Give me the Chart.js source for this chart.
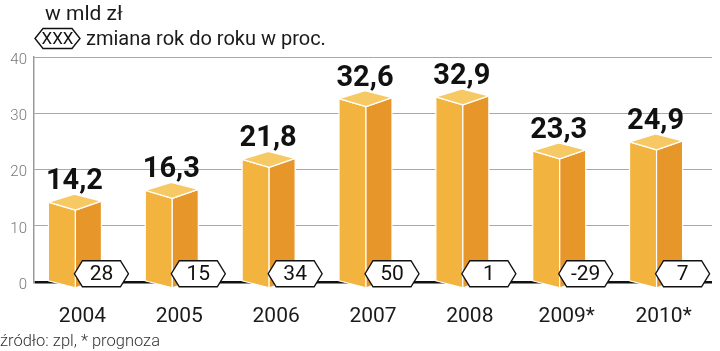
<!DOCTYPE html>
<html>
<head>
<meta charset="utf-8">
<script src="https://cdn.jsdelivr.net/npm/chart.js@4"></script>
<style>
  body { margin: 0; background: #fff; }
  #wrap { position: relative; width: 720px; height: 351px; font-family: Roboto, sans-serif; color: #1a1a1a; }
  canvas { position: absolute; left: 0; top: 0; }
  .txt { position: absolute; white-space: nowrap; }
  #unit { left: 45px; top: 3px; font-size: 21px; line-height: 21px; }
  #legend { left: 86px; top: 28px; font-size: 20px; line-height: 20px; }
  #source { left: 0px; top: 333px; font-size: 16.5px; line-height: 16px; font-weight: 300; color: #333; }
</style>
</head>
<body>
<div id="wrap">
  <canvas id="myChart" width="720" height="351"></canvas>
  <div class="txt" id="unit">w mld zł</div>
  <div class="txt" id="legend">zmiana rok do roku w proc.</div>
  <div class="txt" id="source">źródło: zpl, * prognoza</div>
</div>
<script>
const years = ['2004', '2005', '2006', '2007', '2008', '2009*', '2010*'];
const values = [14.2, 16.3, 21.8, 32.6, 32.9, 23.3, 24.9];
const changes = ['28', '15', '34', '50', '1', '-29', '7'];
const yTicks = [0, 10, 20, 30, 40];

const frontColor = '#f2b43f';
const sideColor = '#e7962a';
const topColor = '#f7c965';

function poly(ctx, pts, fill, stroke, lw) {
  ctx.beginPath();
  ctx.moveTo(pts[0][0], pts[0][1]);
  for (let i = 1; i < pts.length; i++) ctx.lineTo(pts[i][0], pts[i][1]);
  ctx.closePath();
  ctx.fillStyle = fill;
  ctx.fill();
  if (stroke) {
    ctx.strokeStyle = stroke;
    ctx.lineWidth = lw;
    ctx.stroke();
  }
}

function hexBadge(ctx, left, cy, w, h, text, font) {
  const half = h / 2;
  poly(ctx, [
    [left, cy], [left + 8, cy - half], [left + w - 8, cy - half],
    [left + w, cy], [left + w - 8, cy + half], [left + 8, cy + half]
  ], '#fff', '#111', 1.4);
  ctx.fillStyle = '#111';
  ctx.font = font;
  ctx.textAlign = 'center';
  ctx.textBaseline = 'middle';
  ctx.fillText(text, left + w / 2, cy + 1);
}

const boxes = {
  id: 'boxes',
  afterDatasetsDraw(chart) {
    const ctx = chart.ctx;
    const meta = chart.getDatasetMeta(0);
    ctx.save();
    meta.data.forEach((bar, i) => {
      const e = bar.x - 7;      // front/side edge
      const yv = bar.y;
      const y0 = bar.base;
      // front face
      poly(ctx, [[e - 27, yv], [e, yv + 8], [e, y0 + 7], [e - 27, y0]], frontColor, '#fff', 1.2);
      // side face
      poly(ctx, [[e, yv + 8], [e + 26, yv - 1], [e + 26, y0 - 2], [e, y0 + 7]], sideColor, '#fff', 1.2);
      // top
      poly(ctx, [[e - 27, yv], [e - 1, yv - 8], [e + 26, yv - 1], [e, yv + 8]], topColor, '#fff', 1.2);

      // value label
      ctx.fillStyle = '#111';
      ctx.font = 'bold 29px Roboto';
      ctx.textAlign = 'center';
      ctx.textBaseline = 'alphabetic';
      ctx.fillText(values[i].toFixed(1).replace('.', ','), e - 1, yv - 13);

      // change badge
      hexBadge(ctx, e - 1, y0 - 7, 54, 26, changes[i], '21px Roboto');
    });

    // legend badge
    hexBadge(ctx, 35, 38.5, 45, 20, 'XXX', '17px Roboto');
    ctx.restore();
  }
};

const ctx = document.getElementById('myChart').getContext('2d');
const myChart = new Chart(ctx, {
  type: 'bar',
  data: {
    labels: years,
    datasets: [{
      data: values,
      backgroundColor: 'rgba(0,0,0,0)',
      borderWidth: 0
    }]
  },
  options: {
    responsive: false,
    animation: false,
    layout: { padding: { top: 57, right: 8, left: 0, bottom: 0 } },
    plugins: {
      legend: { display: false },
      tooltip: { enabled: false }
    },
    scales: {
      x: {
        grid: { display: false },
        border: { display: false },
        ticks: {
          color: '#1a1a1a',
          font: { family: 'Roboto', size: 21 },
          padding: 14,
          maxRotation: 0
        },
        afterFit: (s) => { s.height = 69; }
      },
      y: {
        min: 0,
        max: 40,
        afterBuildTicks: (s) => { s.ticks = yTicks.map(v => ({ value: v })); },
        grid: {
          drawTicks: false,
          color: (c) => c.tick && c.tick.value === 0 ? '#111' : '#a8a8a8',
          lineWidth: (c) => c.tick && c.tick.value === 0 ? 2.5 : 1
        },
        border: { display: true, color: '#9a9a9a', width: 1.5 },
        ticks: {
          color: '#777',
          font: { family: 'Roboto', size: 15, weight: 300 },
          padding: 7,
          labelOffset: 3
        },
        afterFit: (s) => { s.width = 34; }
      }
    }
  },
  plugins: [boxes]
});
</script>
</body>
</html>
